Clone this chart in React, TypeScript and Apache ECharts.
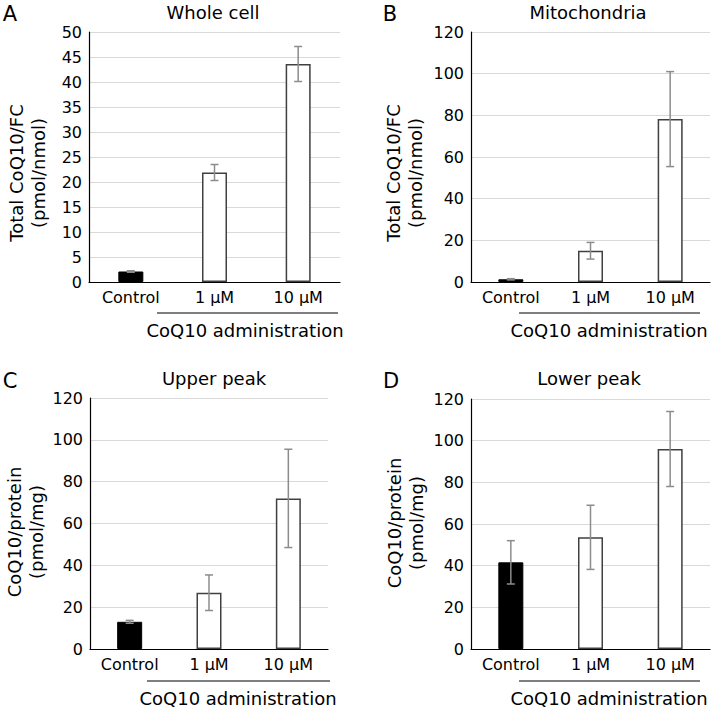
import React, { useEffect, useRef } from "react";
import * as echarts from "echarts";

const categories = ["Control", "1 µM", "10 µM"];

const wholeCellValues = [2.1, 21.9, 43.6];
const wholeCellErrors = [0.15, 1.6, 3.5];

const mitoValues = [1.3, 15.0, 78.2];
const mitoErrors = [0.3, 4.0, 22.8];

const upperValues = [13.0, 26.9, 72.0];
const upperErrors = [0.7, 8.5, 23.5];

const lowerValues = [41.6, 53.6, 96.0];
const lowerErrors = [10.4, 15.4, 18.0];

const panelTitles = ["Whole cell", "Mitochondria", "Upper peak", "Lower peak"];
const panelLetters = ["A", "B", "C", "D"];
const yNames = [
  "Total CoQ10/FC\n(pmol/nmol)",
  "Total CoQ10/FC\n(pmol/nmol)",
  "CoQ10/protein\n(pmol/mg)",
  "CoQ10/protein\n(pmol/mg)",
];
const groupLabel = "CoQ10 administration";
const yMax = [50, 120, 120, 120];
const yInterval = [5, 20, 20, 20];

const FONT = "DejaVu Sans";

export default function App() {
  const ref = useRef<HTMLDivElement>(null);
  useEffect(() => {
    if (!ref.current) return;
    const chart = echarts.init(ref.current, null, { renderer: "svg" });

    const grids = [
      { left: 89, top: 32, width: 251, height: 250 },
      { left: 471, top: 32, width: 239, height: 250 },
      { left: 90, top: 398, width: 238, height: 251 },
      { left: 471, top: 399, width: 239, height: 250 },
    ];
    const values = [wholeCellValues, mitoValues, upperValues, lowerValues];
    const errors = [wholeCellErrors, mitoErrors, upperErrors, lowerErrors];

    const xAxes = grids.map((_, i) => ({
      type: "category",
      gridIndex: i,
      data: categories,
      axisLine: { lineStyle: { color: "#000", width: 1.2 } },
      axisTick: { show: false },
      axisLabel: { color: "#000", fontSize: 16, fontFamily: FONT, margin: 7 },
    }));
    const yAxes = grids.map((_, i) => ({
      type: "value",
      gridIndex: i,
      min: 0,
      max: yMax[i],
      interval: yInterval[i],
      axisLine: { show: true, lineStyle: { color: "#000", width: 1.2 } },
      axisTick: { show: false },
      axisLabel: { color: "#000", fontSize: 16, fontFamily: FONT, margin: 7 },
      splitLine: { lineStyle: { color: "#d9d9d9", width: 1 } },
    }));

    const series: any[] = [];
    values.forEach((vals, i) => {
      series.push({
        type: "bar",
        xAxisIndex: i,
        yAxisIndex: i,
        barWidth: 25,
        data: vals.map((v, j) => ({
          value: v,
          itemStyle:
            j === 0
              ? { color: "#000", borderColor: "#000", borderWidth: 1 }
              : { color: "#fff", borderColor: "#404040", borderWidth: 1.5 },
        })),
      });
      series.push({
        type: "custom",
        xAxisIndex: i,
        yAxisIndex: i,
        z: 10,
        data: vals.map((v, j) => [j, v, errors[i][j]]),
        renderItem: (params: any, api: any) => {
          const x = api.value(0);
          const v = api.value(1);
          const e = api.value(2);
          const hi = api.coord([x, v + e]);
          const lo = api.coord([x, v - e]);
          const style = { stroke: "#8c8c8c", lineWidth: 1.5 };
          const cap = 4;
          return {
            type: "group",
            children: [
              { type: "line", shape: { x1: hi[0], y1: hi[1], x2: lo[0], y2: lo[1] }, style },
              { type: "line", shape: { x1: hi[0] - cap, y1: hi[1], x2: hi[0] + cap, y2: hi[1] }, style },
              { type: "line", shape: { x1: lo[0] - cap, y1: lo[1], x2: lo[0] + cap, y2: lo[1] }, style },
            ],
          };
        },
      });
    });

    const letterPos = [
      [10, 14],
      [390, 14],
      [10, 381],
      [391, 381],
    ];
    const titlePos = [
      [213, 12],
      [588, 12],
      [214, 378],
      [589, 378],
    ];
    const namePos = [
      [27, 173],
      [404, 173],
      [25, 532],
      [405, 523],
    ];
    const groupLine = [
      [157, 338, 313],
      [519, 700, 313],
      [147, 330, 681],
      [519, 700, 681],
    ];
    const groupText = [
      [245, 330],
      [609, 330],
      [238, 698],
      [609, 698],
    ];

    const graphic: any[] = [];
    for (let i = 0; i < 4; i++) {
      graphic.push({
        type: "text",
        x: letterPos[i][0],
        y: letterPos[i][1],
        style: {
          text: panelLetters[i],
          fontSize: 21,
          fontFamily: FONT,
          fill: "#000",
          textAlign: "center",
          textVerticalAlign: "middle",
        },
      });
      graphic.push({
        type: "text",
        x: titlePos[i][0],
        y: titlePos[i][1],
        style: {
          text: panelTitles[i],
          fontSize: 18,
          fontFamily: FONT,
          fill: "#000",
          textAlign: "center",
          textVerticalAlign: "middle",
        },
      });
      graphic.push({
        type: "text",
        x: namePos[i][0],
        y: namePos[i][1],
        rotation: Math.PI / 2,
        style: {
          text: yNames[i],
          fontSize: 18,
          lineHeight: 22,
          fontFamily: FONT,
          fill: "#000",
          textAlign: "center",
          textVerticalAlign: "middle",
        },
      });
      graphic.push({
        type: "line",
        shape: { x1: groupLine[i][0], y1: groupLine[i][2], x2: groupLine[i][1], y2: groupLine[i][2] },
        style: { stroke: "#000", lineWidth: 1 },
      });
      graphic.push({
        type: "text",
        x: groupText[i][0],
        y: groupText[i][1],
        style: {
          text: groupLabel,
          fontSize: 18,
          fontFamily: FONT,
          fill: "#000",
          textAlign: "center",
          textVerticalAlign: "middle",
        },
      });
    }

    chart.setOption({
      animation: false,
      backgroundColor: "#fff",
      grid: grids,
      xAxis: xAxes,
      yAxis: yAxes,
      series,
      graphic,
    });
    return () => chart.dispose();
  }, []);
  return (
    <div
      ref={ref}
      style={{ position: "fixed", left: 0, top: 0, width: 714, height: 710 }}
    />
  );
}
